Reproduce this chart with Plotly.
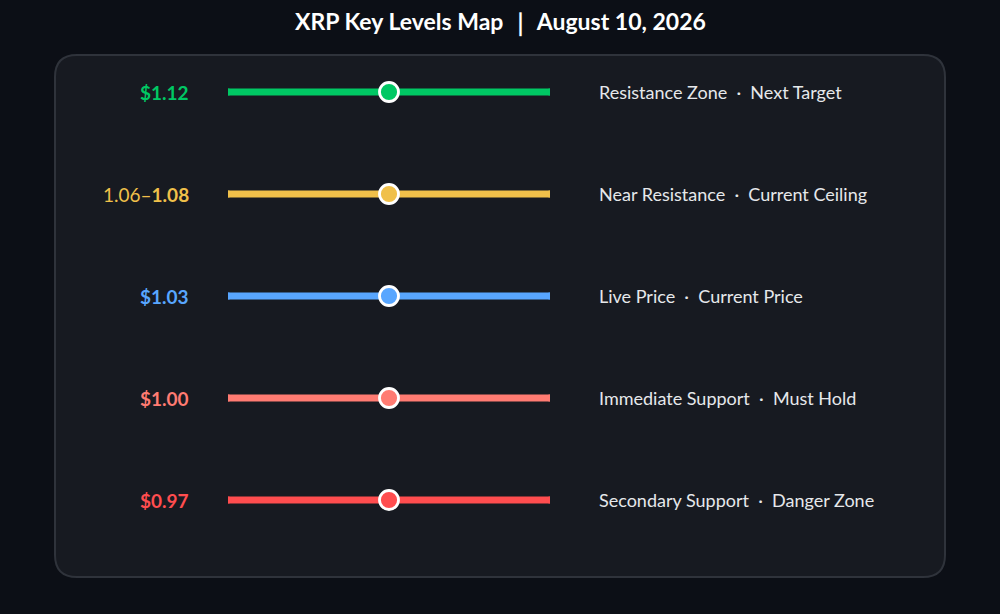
import plotly.graph_objects as go

# level data, top to bottom
price_labels = ["$1.12", "1.06–<b>1.08</b>", "$1.03", "$1.00", "$0.97"]
zone_names = ["Resistance Zone", "Near Resistance", "Live Price", "Immediate Support", "Secondary Support"]
zone_notes = ["Next Target", "Current Ceiling", "Current Price", "Must Hold", "Danger Zone"]
colors = ["#00c864", "#f0c04a", "#58a6ff", "#ff7b72", "#ff4d4f"]
bold_label = [True, False, True, True, True]
track_range = [0, 1]
marker_pos = [0.5, 0.5, 0.5, 0.5, 0.5]

W, H = 1000, 614
FONT = "Source Sans Pro, Lato, sans-serif"

fig = go.Figure()

for i, c in enumerate(colors):
    # track
    fig.add_trace(go.Scatter(
        x=track_range, y=[i, i], mode="lines+markers",
        line=dict(color=c, width=7),
        marker=dict(color=c, size=7, line=dict(width=0)),
        hoverinfo="skip", showlegend=False,
    ))
    # knob
    fig.add_trace(go.Scatter(
        x=[marker_pos[i]], y=[i], mode="markers",
        marker=dict(color=c, size=19, line=dict(color="white", width=2.8)),
        hoverinfo="skip", showlegend=False,
    ))

annotations = []
for i in range(len(colors)):
    txt = price_labels[i]
    if bold_label[i]:
        txt = "<b>" + txt + "</b>"
    annotations.append(dict(
        x=191 / W, y=i, xref="paper", yref="y", text=txt, showarrow=False,
        xanchor="right", yanchor="middle",
        font=dict(family=FONT, size=19, color=colors[i]),
    ))
    annotations.append(dict(
        x=597 / W, y=i, xref="paper", yref="y",
        text=zone_names[i] + "  ·  " + zone_notes[i], showarrow=False,
        xanchor="left", yanchor="middle",
        font=dict(family=FONT, size=18, color="#e6e8eb"),
    ))

annotations.append(dict(
    x=0.5, y=1 - 22 / H, xref="paper", yref="paper",
    text="<b>XRP Key Levels Map ｜ August 10, 2026</b>", showarrow=False,
    xanchor="center", yanchor="middle",
    font=dict(family=FONT, size=23, color="white"),
))

# rounded panel behind the rows
x0, x1, y0, y1, r = 55, 945, 55, 577, 22
def px(x):
    return x / W
def py(y):
    return 1 - y / H
path = (
    f"M {px(x0 + r)},{py(y0)} L {px(x1 - r)},{py(y0)} "
    f"Q {px(x1)},{py(y0)} {px(x1)},{py(y0 + r)} "
    f"L {px(x1)},{py(y1 - r)} Q {px(x1)},{py(y1)} {px(x1 - r)},{py(y1)} "
    f"L {px(x0 + r)},{py(y1)} Q {px(x0)},{py(y1)} {px(x0)},{py(y1 - r)} "
    f"L {px(x0)},{py(y0 + r)} Q {px(x0)},{py(y0)} {px(x0 + r)},{py(y0)} Z"
)

fig.update_layout(
    width=W, height=H,
    margin=dict(l=0, r=0, t=0, b=0),
    paper_bgcolor="#0c0f16",
    plot_bgcolor="rgba(0,0,0,0)",
    shapes=[dict(type="path", path=path, xref="paper", yref="paper",
                 fillcolor="#171a21", line=dict(color="#2f333b", width=2),
                 layer="below")],
    annotations=annotations,
    xaxis=dict(domain=[228 / W, 550 / W], range=[-0.0, 1.0], visible=False, fixedrange=True),
    yaxis=dict(domain=[1 - 551 / H, 1 - 41 / H], range=[4.5, -0.5], visible=False, fixedrange=True),
)

fig.write_html(
    "out.html",
    config={"displayModeBar": False},
    post_script="document.body.style.margin='0';document.body.style.background='#0c0f16';document.body.style.overflow='hidden';",
)
